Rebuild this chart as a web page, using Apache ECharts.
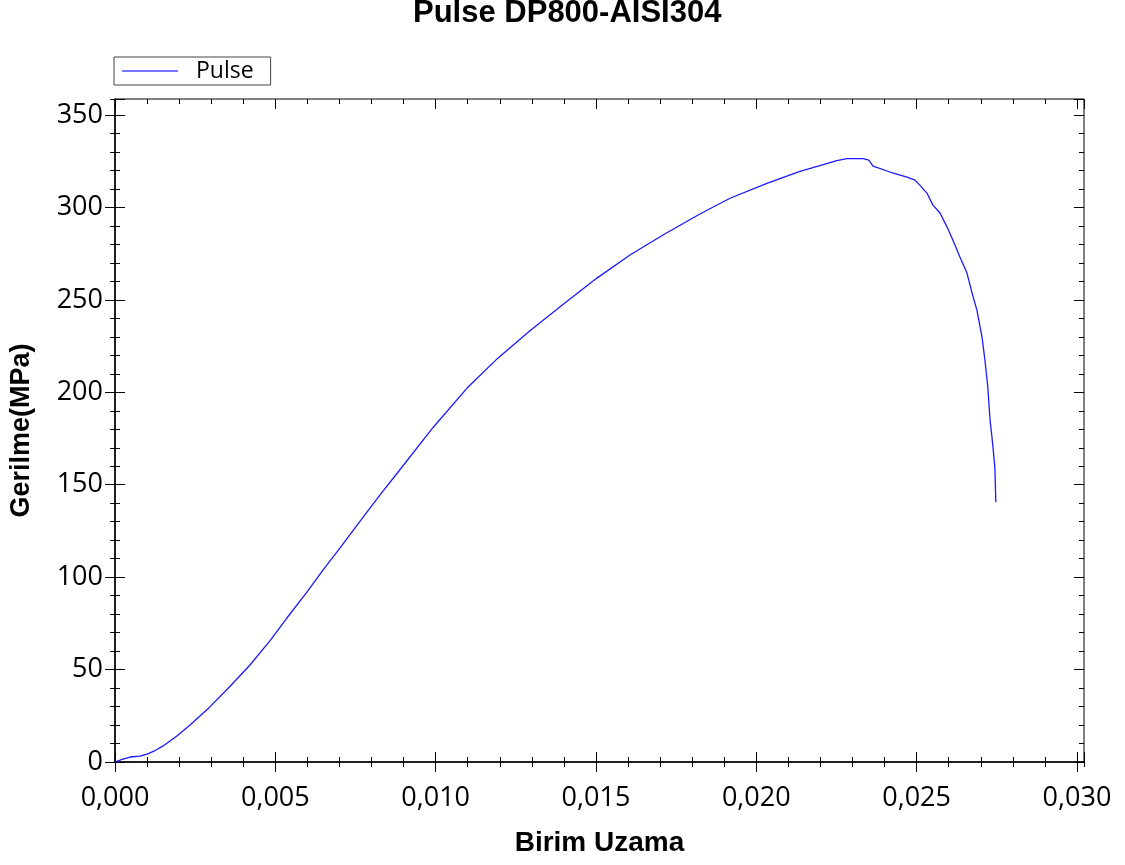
<!DOCTYPE html>
<html>
<head>
<meta charset="utf-8">
<script src="https://cdn.jsdelivr.net/npm/echarts@6/dist/echarts.min.js"></script>
<style>
html,body{margin:0;padding:0;background:#fff;}
#chart{width:1125px;height:865px;}
</style>
</head>
<body>
<div id="chart"></div>
<script>
// ---- Data ----
const seriesName = 'Pulse';
const titleText = 'Pulse DP800-AISI304';
const xAxisName = 'Birim Uzama';
const yAxisName = 'Gerilme(MPa)';

const strain = [
  0, 0.00022, 0.00047, 0.00078, 0.00100, 0.00125, 0.00150, 0.00193, 0.00234, 0.00296,
  0.00359, 0.00421, 0.00483, 0.00536, 0.00599, 0.00649, 0.00702, 0.00755, 0.00826, 0.00883,
  0.00992, 0.01098, 0.01194, 0.01294, 0.01397, 0.01503, 0.01606, 0.01709, 0.01824, 0.01918,
  0.02033, 0.02136, 0.02198, 0.02251, 0.02283, 0.02333, 0.02351, 0.02364, 0.02417, 0.02470,
  0.02495, 0.02510, 0.02532, 0.02551, 0.02573, 0.02595, 0.02613, 0.02635, 0.02657, 0.02673,
  0.02688, 0.02704, 0.02713, 0.02722, 0.02729, 0.02735, 0.02744, 0.02747
];
const stress = [
  0, 1.4, 2.7, 3.2, 4.3, 6.2, 8.7, 14.1, 20.0, 29.8,
  41.0, 52.5, 65.5, 77.9, 92.0, 103.9, 115.8, 128.2, 144.4, 156.9,
  181.0, 202.3, 218.5, 233.3, 247.5, 261.8, 274.3, 285.1, 296.5, 305.0,
  313.0, 319.6, 322.6, 325.4, 326.4, 326.4, 325.6, 322.4, 319.2, 316.4,
  314.8, 312.1, 307.8, 301.3, 297.0, 289.4, 282.4, 273.2, 264.5, 253.7,
  244.5, 229.9, 217.5, 202.9, 185.0, 175.8, 159.6, 140.6
];

const xMin = 0, xMax = 0.03022, xMajor = 0.005, xMinor = 0.001;
const yMin = 0, yMax = 358.7, yMajor = 50, yMinor = 10;

const points = strain.map((x, i) => [x, stress[i]]);

// ---- Axes helpers ----
const black = '#000';
function xAx(position, interval, inside, len, extra) {
  return Object.assign({
    type: 'value', gridIndex: 0, position: position, min: xMin, max: xMax, interval: interval,
    splitLine: {show: false},
    axisLine: {show: false, onZero: false},
    axisTick: {show: true, inside: inside, length: len, lineStyle: {color: black, width: 1}},
    axisLabel: {show: false}
  }, extra || {});
}
function yAx(position, interval, inside, len, extra) {
  return Object.assign({
    type: 'value', gridIndex: 0, position: position, min: yMin, max: yMax, interval: interval,
    splitLine: {show: false},
    axisLine: {show: false, onZero: false},
    axisTick: {show: true, inside: inside, length: len, lineStyle: {color: black, width: 1}},
    axisLabel: {show: false}
  }, extra || {});
}

const lineColor = '#1a1aff';
const chart = echarts.init(document.getElementById('chart'), null, {renderer: 'canvas'});
chart.setOption({
  animation: false,
  backgroundColor: '#fff',
  title: {
    text: titleText, left: 413, top: -2, padding: 0,
    textStyle: {fontFamily: 'Liberation Sans', fontWeight: 'bold', fontSize: 31, color: '#000'}
  },
  legend: {
    data: [{name: seriesName, icon: 'rect'}], left: 114, top: 57, orient: 'horizontal',
    borderColor: '#444', borderWidth: 1, borderRadius: 0,
    padding: [2, 17, 2, 8], itemWidth: 56, itemHeight: 1.5,
    itemStyle: {color: '#4d4dff'},
    textStyle: {fontFamily: 'Open Sans', fontSize: 23, color: '#000', padding: [0, 0, 0, 13], lineHeight: 24}
  },
  grid: {
    left: 115, right: 41, top: 99, bottom: 103, containLabel: false,
    show: true, borderColor: '#000', borderWidth: 1, backgroundColor: 'transparent'
  },
  xAxis: [
    xAx('bottom', xMajor, false, 10, {
      axisLine: {show: true, onZero: false, lineStyle: {color: black, width: 1.5}},
      axisLabel: {
        show: true, showMaxLabel: false, margin: 23, color: '#000',
        fontFamily: 'Open Sans', fontSize: 27,
        formatter: v => v.toFixed(3).replace('.', ',')
      },
      name: xAxisName, nameLocation: 'middle', nameGap: 67,
      nameTextStyle: {fontFamily: 'Liberation Sans', fontWeight: 'bold', fontSize: 28, color: '#000'}
    }),
    xAx('bottom', xMajor, true, 10),
    xAx('bottom', xMinor, false, 5),
    xAx('bottom', xMinor, true, 5),
    xAx('top', xMajor, true, 10),
    xAx('top', xMinor, true, 5)
  ],
  yAxis: [
    yAx('left', yMajor, false, 10, {
      axisLine: {show: true, onZero: false, lineStyle: {color: black, width: 1.5}},
      axisLabel: {
        show: true, showMaxLabel: false, margin: 12, color: '#000',
        fontFamily: 'Open Sans', fontSize: 27
      },
      name: yAxisName, nameLocation: 'middle', nameGap: 80, nameRotate: 90,
      nameTextStyle: {fontFamily: 'Liberation Sans', fontWeight: 'bold', fontSize: 27, color: '#000'}
    }),
    yAx('left', yMajor, true, 10),
    yAx('left', yMinor, false, 5),
    yAx('left', yMinor, true, 5),
    yAx('right', yMajor, true, 10),
    yAx('right', yMinor, true, 5)
  ],
  series: [{
    name: seriesName, type: 'line', xAxisIndex: 0, yAxisIndex: 0,
    data: points, symbol: 'none', showSymbol: false, smooth: false,
    lineStyle: {color: lineColor, width: 1.3}, itemStyle: {color: lineColor}
  }]
});
</script>
</body>
</html>
